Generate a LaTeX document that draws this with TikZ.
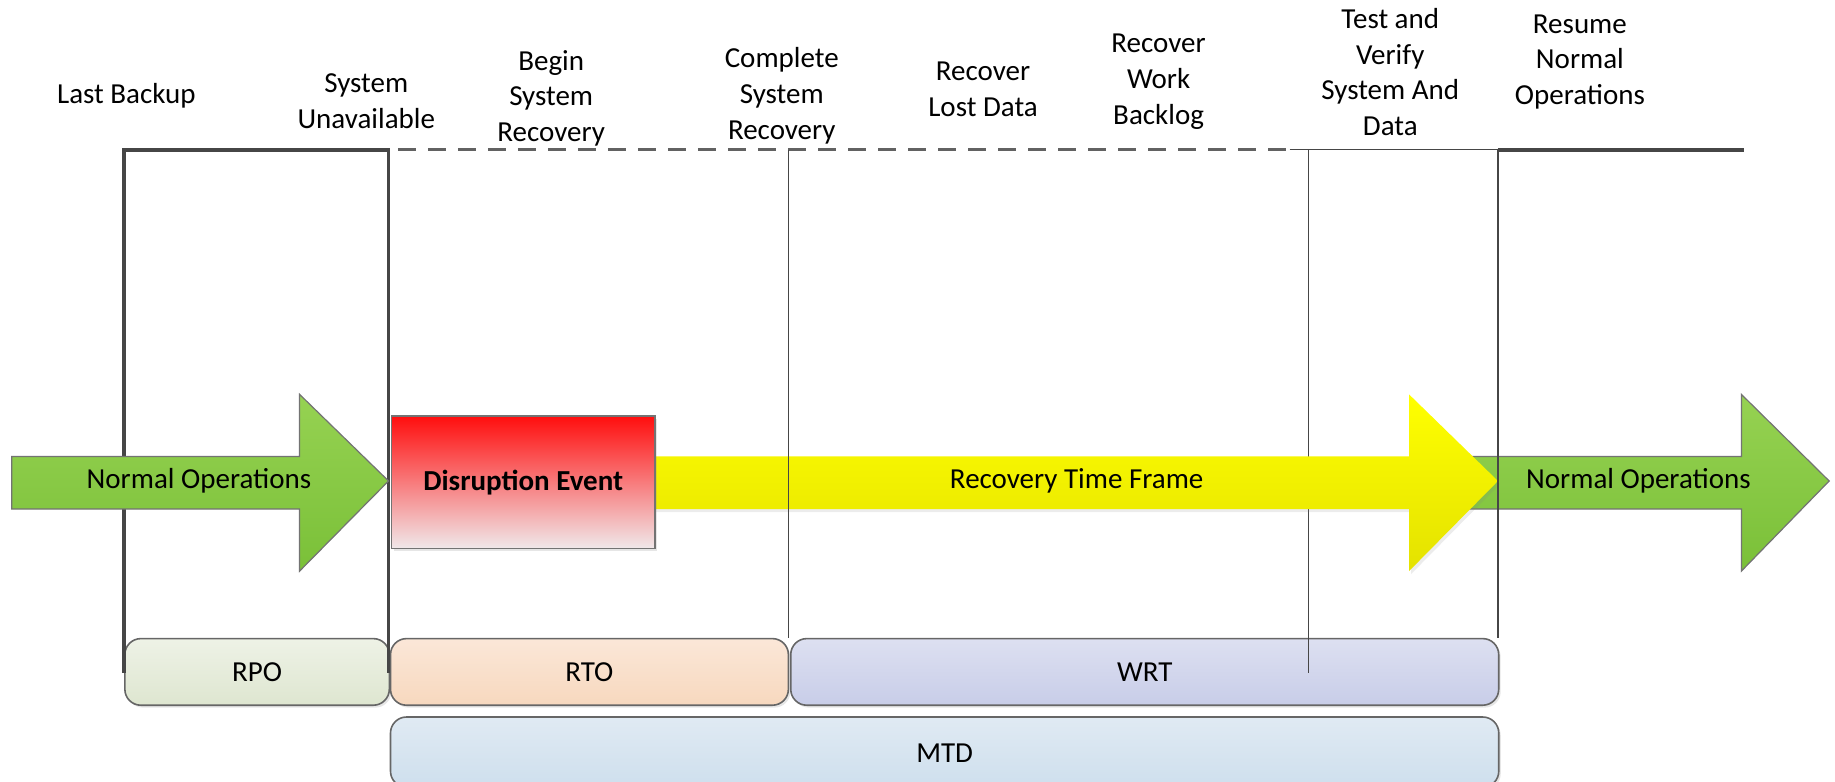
\documentclass[tikz,border=0pt]{standalone}
\usepackage{fontspec}
\setmainfont{Carlito}
\usetikzlibrary{shadows}
\definecolor{gtop}{RGB}{150,210,82}
\definecolor{gbot}{RGB}{122,192,56}
\definecolor{ytop}{RGB}{255,255,0}
\definecolor{ybot}{RGB}{228,226,0}
\definecolor{rtop}{RGB}{255,14,14}
\definecolor{rbot}{RGB}{240,232,234}
\definecolor{linegray}{RGB}{70,70,70}
\definecolor{rpotop}{RGB}{238,242,230}
\definecolor{rpobot}{RGB}{222,230,208}
\definecolor{rtotop}{RGB}{251,231,216}
\definecolor{rtobot}{RGB}{247,216,190}
\definecolor{wrttop}{RGB}{221,224,241}
\definecolor{wrtbot}{RGB}{200,205,232}
\definecolor{mtdtop}{RGB}{224,234,243}
\definecolor{mtdbot}{RGB}{206,223,237}
\tikzset{
  phase/.style={draw=black!60, line width=0.8pt, rounded corners=8pt, anchor=north west,
    inner sep=0pt, minimum height=33.3pt, drop shadow={opacity=0.2, shadow xshift=1pt, shadow yshift=-1.2pt}},
  lbl/.style={align=center, inner sep=0pt},
  thickline/.style={draw=linegray, line width=1.9pt},
  thinline/.style={draw=linegray, line width=0.7pt},
  dashline/.style={draw=linegray!85, line width=1.3pt, dash pattern=on 9pt off 6pt},
  garrow/.style={top color=gtop, bottom color=gbot, draw=black!55, line width=0.6pt},
  yarrow/.style={top color=ytop, bottom color=ybot}
}
\begin{document}
\begin{tikzpicture}[x=0.585pt, y=-0.585pt, font=\fontsize{14.5}{17.9}\selectfont]
\useasboundingbox (0,0) rectangle (1568,668);

% timeline coordinates
\coordinate (tA) at (106,128);
\coordinate (tB) at (332,128);
\coordinate (tB1) at (340,128);
\coordinate (tC) at (674,128);
\coordinate (tD0) at (1102,128);
\coordinate (tD) at (1118,128);
\coordinate (tE) at (1280,128);
\coordinate (tF) at (1490,128);
\coordinate (bA) at (106,575);
\coordinate (bB) at (332,575);
\coordinate (bC) at (674,545);
\coordinate (bD) at (1118,575);
\coordinate (bE) at (1280,545);

% bottom phase boxes
\node[phase, top color=rpotop, bottom color=rpobot, minimum width=132.2pt] (rpo) at (106,545) {};
\node at (rpo.center) {RPO};
\node[phase, top color=rtotop, bottom color=rtobot, minimum width=198.9pt] (rto) at (333,545) {};
\node at (rto.center) {RTO};
\node[phase, top color=wrttop, bottom color=wrtbot, minimum width=353.9pt] (wrt) at (675,545) {};
\node at (wrt.center) {WRT};
\node[phase, top color=mtdtop, bottom color=mtdbot, minimum width=554.0pt, minimum height=35.1pt] (mtd) at (333,612) {};
\node at ([yshift=-0.5pt]mtd.center) {MTD};

% lines behind the arrows
\draw[thickline] (bA) -- (tA) -- (tB) -- (bB);
\draw[dashline] (tB1) -- (tD0);
\draw[thinline] (tD0) -- (tE);
\draw[thinline] (tD) -- (bD);
\draw[thickline] (tE) -- (tF);

% arrows
\shadedraw[garrow] (10,390) -- (256,390) -- (256,337) -- (332,411) -- (256,488) -- (256,435) -- (10,435) -- cycle;
\node (no1) at (170,411) {Normal Operations};
\shadedraw[garrow] (1256,390) -- (1488,390) -- (1488,337) -- (1563,411) -- (1488,488) -- (1488,435) -- (1256,435) -- cycle;
\shade[yarrow, drop shadow={opacity=0.15, shadow xshift=1pt, shadow yshift=-1.5pt}] (559,390) -- (1204,390) -- (1204,337) -- (1280,411) -- (1204,488) -- (1204,435) -- (559,435) -- cycle;
\node (rtf) at (920,411) {Recovery Time Frame};
\node (no2) at (1400,411) {Normal Operations};
\node[draw=black!55, line width=0.7pt, top color=rtop, bottom color=rbot, minimum width=131.6pt, minimum height=66.1pt,
  anchor=north west, inner sep=0pt, font=\fontsize{14.5}{17.9}\selectfont\bfseries,
  drop shadow={opacity=0.2, shadow xshift=1pt, shadow yshift=-1.2pt}] (dis) at (334,355) {Disruption Event};

% lines in front
\draw[thinline] (tC) -- (bC);
\draw[thinline] (tE) -- (bE);

% top labels
\node[lbl] (l1) at (108,82) {Last Backup};
\node[lbl] (l2) at (313,86.5) {System\\Unavailable};
\node[lbl] (l3) at (471,84) {Begin\\System\\Recovery};
\node[lbl] (l4) at (668,82) {Complete\\System\\Recovery};
\node[lbl] (l5) at (840,76.5) {Recover\\Lost Data};
\node[lbl] (l6) at (990,70) {Recover\\Work\\Backlog};
\node[lbl] (l7) at (1188,61.5) {Test and\\Verify\\System And\\Data};
\node[lbl] (l8) at (1350,53) {Resume\\Normal\\Operations};
\end{tikzpicture}
\end{document}
